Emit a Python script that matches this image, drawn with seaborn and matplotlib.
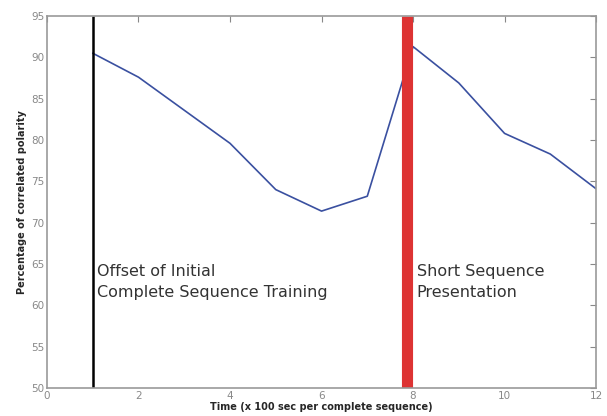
import matplotlib
matplotlib.use("Agg")
import matplotlib.pyplot as plt
import seaborn as sns
import pandas as pd

time = [1, 2, 3, 4, 5, 6, 7, 8, 9, 10, 11, 12]
polarity = [90.5, 87.6, 83.6, 79.6, 74.0, 71.4, 73.2, 91.3, 86.9, 80.8, 78.3, 74.1]
offset_x = 1
short_x = 7.86
offset_text = "Offset of Initial\nComplete Sequence Training"
short_text = "Short Sequence\nPresentation"

df = pd.DataFrame({"time": time, "polarity": polarity})

sns.set_style("white")
plt.rcParams['font.family'] = ['DejaVu Sans']

fig = plt.figure(figsize=(6.07, 4.16), dpi=100)
ax = fig.add_axes([0.0774, 0.0673, 0.9046, 0.8942])

sns.lineplot(data=df, x="time", y="polarity", ax=ax, color="#3a50a0", linewidth=1.2)
ax.axvline(offset_x, color="black", linewidth=1.8, solid_capstyle="butt")
ax.axvline(short_x, color="#dd3333", linewidth=8, solid_capstyle="butt")

ax.text(1.09, 62.8, offset_text, fontsize=11.5, color="#333333", va="center", linespacing=1.45)
ax.text(8.08, 62.8, short_text, fontsize=11.5, color="#333333", va="center", linespacing=1.45)

ax.set_xlim(0, 12)
ax.set_ylim(50, 95)
ax.set_xticks([0, 2, 4, 6, 8, 10, 12])
ax.set_yticks(range(50, 96, 5))
ax.tick_params(direction="in", top=True, right=True, labelsize=7.5, labelcolor="#888888",
               color="#888888", length=4, pad=2)
for s in ax.spines.values():
    s.set_color("#999999")
    s.set_linewidth(1.2)

ax.set_xlabel("Time (x 100 sec per complete sequence)", fontsize=7, fontweight="bold", labelpad=1)
ax.set_ylabel("Percentage of correlated polarity", fontsize=7, fontweight="bold", labelpad=3)

fig.savefig("out.png", dpi=100)
